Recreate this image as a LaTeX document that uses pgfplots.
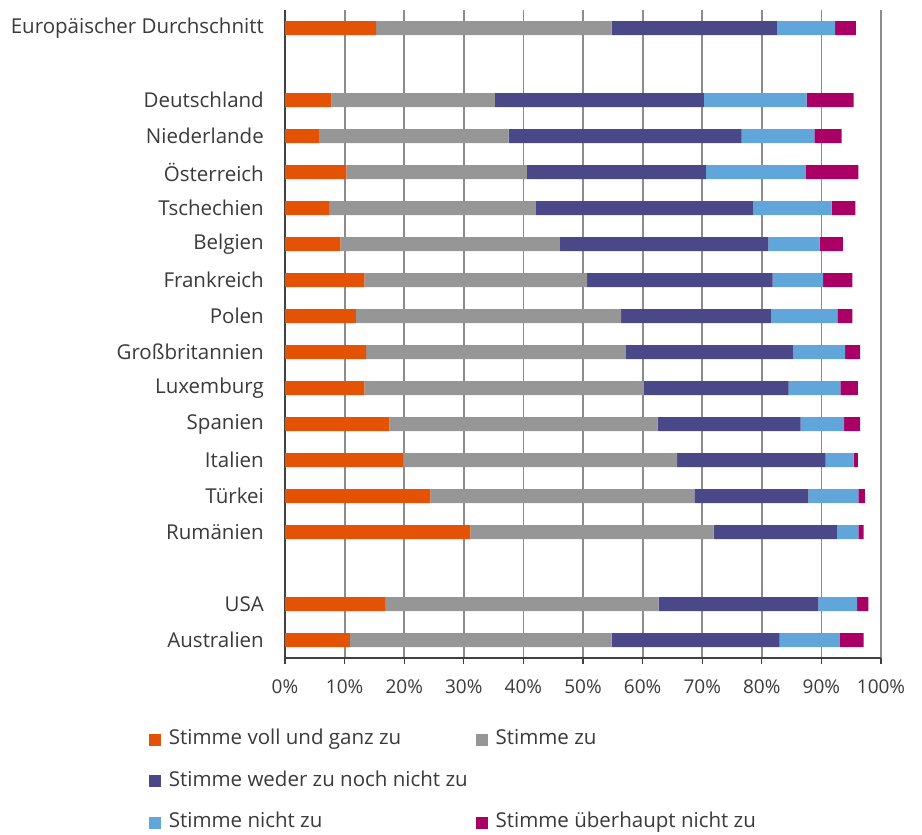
\documentclass[border=0pt]{standalone}
\usepackage{fontspec}
\setmainfont{Open Sans}
\usepackage{pgfplots}
\pgfplotsset{compat=1.18}
\usepackage{pgfplotstable}
\definecolor{cOr}{HTML}{E35205}
\definecolor{cGr}{HTML}{969696}
\definecolor{cNv}{HTML}{4A4888}
\definecolor{cLb}{HTML}{60A6DA}
\definecolor{cMg}{HTML}{AA0066}
\definecolor{cTx}{HTML}{3A3A3A}
\pgfplotstableread{
y a b c d e
0 15.3 39.5 27.8 9.7 3.5
2 7.8 27.4 35.1 17.2 7.9
3 5.8 31.7 39.1 12.2 4.6
4 10.3 30.3 30.0 16.8 8.8
5 7.4 34.7 36.5 13.1 4.0
6 9.3 36.8 35.0 8.6 3.9
7 13.3 37.4 31.1 8.5 4.9
8 11.9 44.5 25.2 11.1 2.5
9 13.6 43.6 28.1 8.7 2.5
10 13.3 46.9 24.3 8.7 2.9
11 17.5 45.0 24.0 7.3 2.7
12 19.8 46.0 24.9 4.7 0.7
13 24.4 44.3 19.1 8.4 1.1
14 31.1 40.8 20.7 3.6 0.9
16 16.8 45.9 26.8 6.5 1.9
17 10.9 43.9 28.2 10.1 4.0
}\data
\begin{document}
\begin{tikzpicture}
\path (0bp,0bp) rectangle (922bp,-832bp);
\begin{axis}[
  at={(285bp,-658bp)}, anchor=south west,
  scale only axis, width=596bp, height=648bp,
  xbar stacked, bar width=14bp,
  xmin=0, xmax=100, ymin=-0.5, ymax=17.5,
  y dir=reverse,
  axis x line*=bottom, axis y line*=left,
  axis line style={color=black!75, line width=1.3bp},
  xtick={0,10,...,100},
  xticklabels={0\%,10\%,20\%,30\%,40\%,50\%,60\%,70\%,80\%,90\%,100\%},
  xmajorgrids, grid style={color=black!45, line width=1.8bp},
  x tick style={color=black!75, line width=1.3bp},
  major tick length=6bp,
  xtick align=outside,
  ytick={0,2,3,4,5,6,7,8,9,10,11,12,13,14,16,17},
  yticklabels={Europäischer Durchschnitt,Deutschland,Niederlande,Österreich,Tschechien,Belgien,Frankreich,Polen,Großbritannien,Luxemburg,Spanien,Italien,Türkei,Rumänien,USA,Australien},
  y tick style={draw=none},
  xticklabel style={font=\fontsize{19bp}{23bp}\selectfont, text=cTx, yshift=-12bp},
  yticklabel style={font=\fontsize{20.5bp}{24bp}\selectfont, text=cTx, inner sep=0pt, xshift=-21bp},
  legend columns=2,
  legend style={at={(-0.2287,-0.1076)}, anchor=north west, draw=none, fill=none,
    font=\fontsize{20.5bp}{24bp}\selectfont, text=cTx,
    nodes={text height=15bp, text depth=5bp},
    row sep=17.5bp, column sep=0bp, inner sep=0pt,
    /tikz/every odd column/.append style={column sep=6bp},
    /tikz/every even column/.append style={column sep=6bp}},
  legend cell align=left,
  legend image code/.code={\fill[#1] (0bp,-6bp) rectangle (12bp,6bp);},
]
\addplot[fill=cOr, draw=none] table[x=a, y=y] {\data};
\addlegendentry{Stimme voll und ganz zu}
\addplot[fill=cGr, draw=none] table[x=b, y=y] {\data};
\addlegendentry{Stimme zu}
\addplot[fill=cNv, draw=none] table[x=c, y=y] {\data};
\addlegendentry{Stimme weder zu noch nicht zu}
\addlegendimage{empty legend}
\addlegendentry{}
\addplot[fill=cLb, draw=none] table[x=d, y=y] {\data};
\addlegendentry{Stimme nicht zu}
\addplot[fill=cMg, draw=none] table[x=e, y=y] {\data};
\addlegendentry{Stimme überhaupt nicht zu}
\end{axis}
\end{tikzpicture}
\end{document}
